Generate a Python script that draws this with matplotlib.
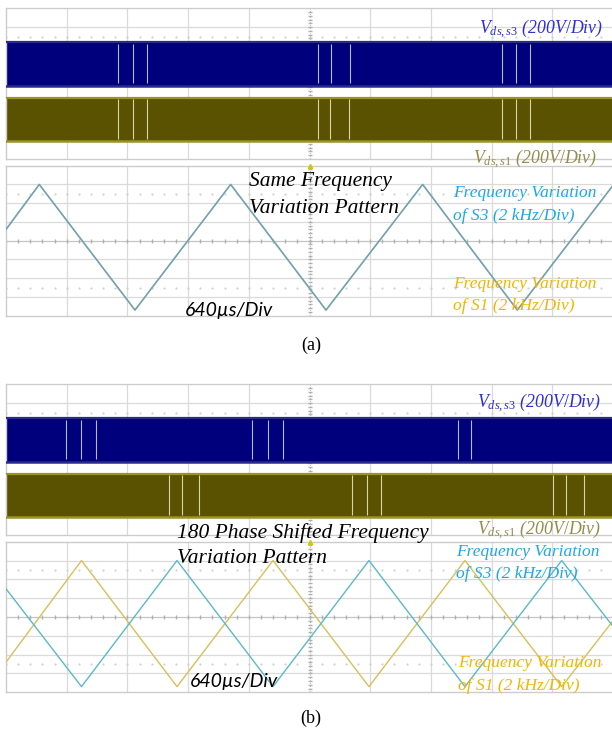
import numpy as np
import matplotlib.pyplot as plt

plt.rcParams['mathtext.fontset'] = 'custom'
plt.rcParams['mathtext.rm'] = 'Liberation Serif'
plt.rcParams['mathtext.it'] = 'Liberation Serif:italic'

W, H = 612, 730

# time base: 640 us/div, 10 div
t_div = 640
# Vds channels: 200 V/div, switching amplitude (V)
vds_high = 460
v_div = 200
# frequency channels: 2 kHz/div
f_div = 2

# (a) same frequency pattern - triangle vertices (us, kHz deviation)
ta = [0, 351, 1360, 2369, 3374, 4393, 5391, 6400]
fa = [1.2, 6.0, -7.4, 6.0, -7.4, 6.0, -7.4, 5.9]

# (b) 180 deg shifted patterns
tb = [0, 796, 1803, 2815, 3827, 4839, 5859, 6400]
fb_s3 = [3.0, -7.4, 6.0, -7.4, 6.0, -7.4, 6.0, -1.0]
fb_s1 = [-4.8, 6.0, -7.4, 6.0, -7.4, 6.0, -7.4, -0.4]

# instants where the switching pattern drops out (us)
gaps_a_s3 = [1181, 1344, 1487, 3290, 3427, 3624, 5230, 5377, 5525]
gaps_a_s1 = [1178, 1339, 1483, 3293, 3416, 3617, 5230, 5377, 5525]
gaps_b_s3 = [637, 794, 949, 2594, 2762, 2921, 4766, 4908]
gaps_b_s1 = [1716, 1851, 2035, 3648, 3806, 3954, 5764, 5900, 6094]

# screen offsets of the Vds channels (V)
gnd_s3 = -20
gnd_s1 = -610

col_s3v = '#00007c'
col_s1v = '#5a5200'
col_s3f = '#5ab9c9'
col_s1f = '#d6c05a'
col_af = '#6ca3bc'


def px(x, y):
    return x / W, 1 - y / H


def scope_axes(y0, y1, ylim, ystep):
    #oscilloscope screen with 10 x 8 division grid
    ax = fig.add_axes([6 / W, 1 - y1 / H, 607 / W, (y1 - y0) / H])
    ax.set_xlim(0, 10 * t_div)
    ax.set_ylim(-ylim, ylim)
    for x in np.arange(1, 10) * t_div:
        if x == 5 * t_div:
            ax.axvline(x, color='#b8b8b8', lw=0.8, ls=(0, (1, 1.5)), zorder=0)
        else:
            ax.axvline(x, color='#dadada', lw=0.9, zorder=0)
    for y in np.arange(-3, 4) * ystep:
        if y == 0:
            ax.axhline(y, color='#c4c4c4', lw=0.9, zorder=0)
        else:
            ax.axhline(y, color='#dadada', lw=0.9, zorder=0)
    # minor tick marks on centre lines
    mt = np.arange(0, 10 * t_div, t_div / 5)
    ax.plot(mt, np.zeros_like(mt), ls='none', marker='|', ms=3, color='#b0b0b0', zorder=0)
    my = np.arange(-4 * ystep, 4 * ystep, ystep / 5)
    ax.plot(np.full_like(my, 5 * t_div), my, ls='none', marker='_', ms=3, color='#b0b0b0', zorder=0)
    for y in (-2.5 * ystep, 2.5 * ystep):
        ax.plot(mt, np.full_like(mt, y), ls='none', marker='.', ms=1.2, color='#d0d0d0', zorder=0)
    ax.set_xticks([])
    ax.set_yticks([])
    for s in ax.spines.values():
        s.set_color('#cccccc')
        s.set_linewidth(1.0)
    return ax


def vds_band(ax, gnd, color, gaps, gapcol, edge):
    ax.fill_between([0, 10 * t_div], gnd, gnd + vds_high, color=color, lw=0, zorder=2)
    ax.plot([0, 10 * t_div], [gnd + vds_high, gnd + vds_high], color=edge, lw=1.6, zorder=3)
    ax.plot([0, 10 * t_div], [gnd, gnd], color=edge, lw=1.8, zorder=3)
    ax.vlines(gaps, gnd + 25, gnd + vds_high - 15, color=gapcol, lw=0.8, zorder=4)


def serif(x, y, s, color, size, ha='left'):
    fig.text(*px(x, y), s, color=color, fontsize=size, family='Liberation Serif',
             style='italic', ha=ha, va='baseline')


fig = plt.figure(figsize=(W / 100, H / 100), dpi=100)

#(a) switching voltages
ax = scope_axes(8.3, 159, 4 * v_div, v_div)
vds_band(ax, gnd_s3, col_s3v, gaps_a_s3, '#b8b8cc', '#2a2a90')
vds_band(ax, gnd_s1, col_s1v, gaps_a_s1, '#d8d4a8', '#9a9424')

#(a) frequency variation
ax = scope_axes(165.7, 315.7, 4 * f_div, f_div)
ax.plot(ta, fa, color=col_s1f, lw=1.0, zorder=3)
ax.plot(ta, fa, color=col_af, lw=1.1, zorder=4)
ax.plot(5 * t_div, 4 * f_div, marker='^', ms=3, color='#d0c800', clip_on=False, zorder=5)

#(b) switching voltages
ax = scope_axes(384.3, 535, 4 * v_div, v_div)
vds_band(ax, gnd_s3, col_s3v, gaps_b_s3, '#b8b8cc', '#2a2a90')
vds_band(ax, gnd_s1, col_s1v, gaps_b_s1, '#d8d4a8', '#9a9424')

#(b) frequency variation
ax = scope_axes(541.7, 692.3, 4 * f_div, f_div)
ax.plot(tb, fb_s1, color=col_s1f, lw=1.0, zorder=3)
ax.plot(tb, fb_s3, color=col_s3f, lw=1.0, zorder=4)
ax.plot(5 * t_div, 4 * f_div, marker='^', ms=3, color='#d0c800', clip_on=False, zorder=5)

# labels
serif(603, 33, r'$V_{ds,s3}$ (200$V/Div$)', '#2f2fd4', 12.8, ha='right')
serif(601, 407, r'$V_{ds,s3}$ (200$V/Div$)', '#2f2fd4', 12.8, ha='right')
serif(597, 163, r'$V_{ds,s1}$ (200$V/Div$)', '#958c4c', 12.8, ha='right')
serif(601, 534, r'$V_{ds,s1}$ (200$V/Div$)', '#958c4c', 12.8, ha='right')

serif(249, 186, 'Same Frequency', 'black', 15.5)
serif(249, 212.7, 'Variation Pattern', 'black', 15.5)
serif(177, 538, '180 Phase Shifted Frequency', 'black', 15.5)
serif(177, 563, 'Variation Pattern', 'black', 15.5)

serif(453, 197, 'Frequency Variation', '#1ca8e8', 12.5)
serif(453, 220.5, 'of S3 (2 kHz/Div)', '#1ca8e8', 12.5)
serif(453, 288.5, 'Frequency Variation', '#f2b600', 12.5)
serif(453, 309.5, 'of S1 (2 kHz/Div)', '#f2b600', 12.5)
serif(456, 556, 'Frequency Variation', '#1ca8e8', 12.5)
serif(456, 578.5, 'of S3 (2 kHz/Div)', '#1ca8e8', 12.5)
serif(458, 667, 'Frequency Variation', '#f2b600', 12.5)
serif(458, 690, 'of S1 (2 kHz/Div)', '#f2b600', 12.5)

fig.text(*px(185, 316), '640µs/Div', fontsize=14, family='Lato', style='italic',
         color='black', va='baseline')
fig.text(*px(190, 687), '640µs/Div', fontsize=14, family='Lato', style='italic',
         color='black', va='baseline')

fig.text(*px(311, 345), '(a)', fontsize=13, family='Liberation Serif', ha='center', va='center')
fig.text(*px(311, 718), '(b)', fontsize=13, family='Liberation Serif', ha='center', va='center')

fig.savefig('out.png', dpi=100)
